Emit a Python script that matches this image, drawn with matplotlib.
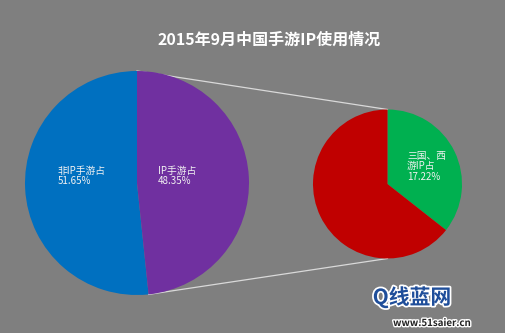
import numpy as np
import matplotlib
matplotlib.use("Agg")
import matplotlib.pyplot as plt
import matplotlib.patheffects as pe

plt.rcParams['font.family'] = ['Noto Sans CJK SC', 'DejaVu Sans']

title = "2015年9月中国手游IP使用情况"
main_labels = ["非IP手游占", "IP手游占"]
main_values = [51.65, 48.35]
main_colors = ["#0070C0", "#7030A0"]
sub_labels = ["三国、西\n游IP占", "其他IP"]
sub_values = [17.22, 48.35 - 17.22]
sub_colors = ["#00B050", "#C00000"]

W, H = 505, 333
fig = plt.figure(figsize=(W / 100, H / 100), dpi=100)
fig.patch.set_facecolor("#7F7F7F")
ax = fig.add_axes([0, 0, 1, 1])
ax.set_xlim(0, W)
ax.set_ylim(0, H)
ax.set_aspect("equal")
ax.axis("off")

# main pie
c1 = (137, H - 183)
r1 = 112
ax.pie(main_values, colors=main_colors, startangle=90, counterclock=True,
       center=c1, radius=r1, frame=True,
       wedgeprops=dict(linewidth=0))
# sub pie
c2 = (387.5, H - 184)
r2 = 74.5
ax.pie(sub_values, colors=sub_colors, startangle=90, counterclock=False,
       center=c2, radius=r2, frame=True,
       wedgeprops=dict(linewidth=0))
ax.set_xlim(0, W)
ax.set_ylim(0, H)
ax.axis("off")

# connector lines
a_end = np.deg2rad(90 + 360 * main_values[0] / sum(main_values))
p_top = (c1[0], c1[1] + r1)
p_bot = (c1[0] + r1 * np.cos(a_end), c1[1] + r1 * np.sin(a_end))
ax.plot([p_top[0], c2[0]], [p_top[1], c2[1] + r2], color="#D9D9D9", lw=0.9, zorder=0.5)
ax.plot([p_bot[0], c2[0]], [p_bot[1], c2[1] - r2], color="#D9D9D9", lw=0.9, zorder=0.5)

tc = "#F2F2F2"
fs = 7
ax.text(58, H - 166, f"{main_labels[0]}\n{main_values[0]:.2f}%", color=tc,
        fontsize=fs, ha="left", va="top", linespacing=1.05)
ax.text(158, H - 166, f"{main_labels[1]}\n{main_values[1]:.2f}%", color=tc,
        fontsize=fs, ha="left", va="top", linespacing=1.05)
ax.text(407, H - 151, f"{sub_labels[0]}\n{sub_values[0]:.2f}%", color=tc,
        fontsize=fs, ha="left", va="top", linespacing=1.05)

ax.text(269, H - 40, title, color="white", fontsize=11.5, fontweight="bold",
        ha="center", va="center")

# watermark
ax.text(412, H - 297, "Q线蓝网", color="#1F4E9A", fontsize=15, fontweight="bold",
        ha="center", va="center",
        path_effects=[pe.withStroke(linewidth=2.5, foreground="white")])
ax.text(432, H - 323, "www.51saier.cn", color="#222222", fontsize=7, fontweight="bold",
        ha="center", va="center",
        path_effects=[pe.withStroke(linewidth=2, foreground="white")])

fig.savefig("out.png", dpi=100, facecolor=fig.get_facecolor())
